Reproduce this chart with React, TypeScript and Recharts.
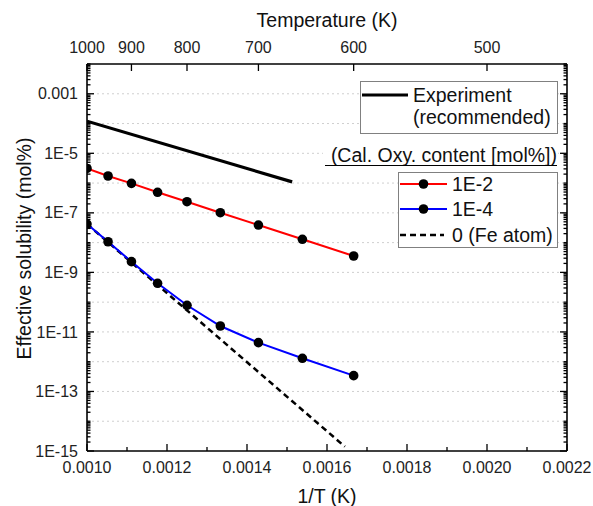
import React from 'react';
import { LineChart, Line, XAxis, YAxis, CartesianGrid, Legend } from 'recharts';

// ---- data ----
const temperaturesK = [1000, 950, 900, 850, 800, 750, 700, 650, 600];
const oxy1e2 = [3.1e-6, 1.73e-6, 9.8e-7, 4.9e-7, 2.37e-7, 1.01e-7, 3.9e-8, 1.29e-8, 3.55e-9];
const oxy1e4 = [4.2e-8, 1.07e-8, 2.29e-9, 4.3e-10, 7.85e-11, 1.58e-11, 4.36e-12, 1.3e-12, 3.4e-13];
const experimentT = [1000, 661];
const experimentVals = [1.2e-4, 1.1e-6];
const feAtomT = [1000, 608];
const feAtomVals = [4.2e-8, 1.4e-15];

// ---- ticks ----
const xMajorTicks = [0.001, 0.0012, 0.0014, 0.0016, 0.0018, 0.002, 0.0022];
const xTickLabels = ['0.0010', '0.0012', '0.0014', '0.0016', '0.0018', '0.0020', '0.0022'];
const xMinorTicks = [0.0011, 0.0013, 0.0015, 0.0017, 0.0019, 0.0021];
const topTickLabels = ['1000', '900', '800', '700', '600', '500'];
const yMajorTicks = [1e-15, 1e-13, 1e-11, 1e-9, 1e-7, 1e-5, 1e-3];
const yTickLabels = ['1E-15', '1E-13', '1E-11', '1E-9', '1E-7', '1E-5', '0.001'];
const gridDecades = [1e-14, 1e-13, 1e-12, 1e-11, 1e-10, 1e-9, 1e-8, 1e-7, 1e-6, 1e-5, 1e-4, 1e-3];

const yMinorTicks: number[] = [];
for (let e = -15; e <= -3; e++) {
  for (let m = 1; m <= 9; m++) {
    const v = parseFloat(`${m}e${e}`);
    if (!yMajorTicks.some((t) => Math.abs(v - t) / t < 1e-6)) yMinorTicks.push(v);
  }
}
yMinorTicks.push(1e-2);
const yAllTicks = [...yMajorTicks, ...yMinorTicks].sort((a, b) => a - b);
const xAllTicks = [...xMajorTicks, ...xMinorTicks].sort((a, b) => a - b);
const topTicks = topTickLabels.map((t) => 1 / Number(t));

const toPoints = (ts: number[], vals: number[]) => ts.map((T, i) => ({ x: 1 / T, y: vals[i] }));
const series1e2 = toPoints(temperaturesK, oxy1e2);
const series1e4 = toPoints(temperaturesK, oxy1e4);
const seriesExp = toPoints(experimentT, experimentVals);
const seriesFe = toPoints(feAtomT, feAtomVals);

const FONT = '"Liberation Sans", Arial, Helvetica, sans-serif';
const TICK_FS = 16;
const TITLE_FS = 19.5;
const LEG_FS = 19.5;
const axisStyle = { stroke: '#000', strokeWidth: 1.6 };

const idxOf = (arr: number[], v: number) => arr.findIndex((t) => Math.abs(v - t) / t < 1e-6);

const LeftTick = (p: any) => {
  const v = p.payload.value;
  const i = idxOf(yMajorTicks, v);
  const len = i >= 0 ? 7 : 3.5;
  return (
    <g>
      <line x1={p.x} x2={p.x + len} y1={p.y} y2={p.y} stroke="#000" strokeWidth={1.3} />
      {i >= 0 && (
        <text x={p.x - 9} y={p.y + 5.6} textAnchor="end" fontSize={TICK_FS} fontFamily={FONT} fill="#222">
          {yTickLabels[i]}
        </text>
      )}
    </g>
  );
};

const RightTick = (p: any) => {
  const v = p.payload.value;
  const i = idxOf(yMajorTicks, v);
  const len = i >= 0 ? 7 : 3.5;
  return <line x1={p.x} x2={p.x - len} y1={p.y} y2={p.y} stroke="#000" strokeWidth={1.3} />;
};

const BottomTick = (p: any) => {
  const v = p.payload.value;
  const i = idxOf(xMajorTicks, v);
  const len = i >= 0 ? 7 : 4;
  return (
    <g>
      <line x1={p.x} x2={p.x} y1={p.y} y2={p.y - len} stroke="#000" strokeWidth={1.3} />
      {i >= 0 && (
        <text x={p.x} y={p.y + 22} textAnchor="middle" fontSize={TICK_FS} fontFamily={FONT} fill="#222">
          {xTickLabels[i]}
        </text>
      )}
    </g>
  );
};

const TopTick = (p: any) => {
  const v = p.payload.value;
  const i = idxOf(topTicks, v);
  return (
    <g>
      <line x1={p.x} x2={p.x} y1={p.y} y2={p.y + 7} stroke="#000" strokeWidth={1.3} />
      <text x={p.x} y={p.y - 11} textAnchor="middle" fontSize={TICK_FS} fontFamily={FONT} fill="#222">
        {topTickLabels[i]}
      </text>
    </g>
  );
};

const LegendBoxes = () => (
  <svg width={593} height={506} style={{ display: 'block' }}>
    <g fontFamily={FONT} fontSize={LEG_FS} fill="#111">
      <rect x={360.5} y={81.5} width={197} height={52} fill="#fff" stroke="#808080" strokeWidth={1} />
      <line x1={362} x2={408} y1={95} y2={95} stroke="#000" strokeWidth={3.2} />
      <text x={413} y={101.5}>Experiment</text>
      <text x={413} y={124}>(recommended)</text>

      <rect x={323} y={145} width={235} height={22} fill="#fff" />
      <text x={557} y={162} textAnchor="end">(Cal. Oxy. content [mol%])</text>
      <line x1={325} x2={557} y1={165.5} y2={165.5} stroke="#000" strokeWidth={1} />

      <rect x={398.5} y={172.5} width={159} height={75} fill="#fff" stroke="#808080" strokeWidth={1} />
      <line x1={400} x2={447} y1={184} y2={184} stroke="#ff0000" strokeWidth={2} />
      <circle cx={423.5} cy={184} r={4.8} fill="#000" />
      <text x={452} y={191}>1E-2</text>
      <line x1={400} x2={447} y1={209} y2={209} stroke="#0000ff" strokeWidth={2} />
      <circle cx={423.5} cy={209} r={4.8} fill="#000" />
      <text x={452} y={216}>1E-4</text>
      <line x1={400} x2={444} y1={235} y2={235} stroke="#000" strokeWidth={2.5} strokeDasharray="6 4" />
      <text x={452} y={242}>0 (Fe atom)</text>
    </g>
  </svg>
);

export default function App() {
  return (
    <div style={{ position: 'absolute', left: 0, top: 0, width: 593, height: 506, background: '#fff' }}>
      <LineChart width={593} height={506} margin={{ top: 0, right: 0, bottom: 0, left: 0 }}>
        <CartesianGrid
          vertical={false}
          horizontalValues={gridDecades}
          stroke="#cfcfcf"
          strokeDasharray="2 3"
          strokeWidth={1}
        />
        <XAxis
          xAxisId={0}
          type="number"
          dataKey="x"
          domain={[0.001, 0.0022]}
          allowDataOverflow
          ticks={xAllTicks}
          interval={0}
          tickLine={false}
          tickSize={0}
          tickMargin={0}
          tick={BottomTick}
          height={55}
          axisLine={axisStyle}
          label={{
            content: (lp: any) => {
              const vb = lp.viewBox || { x: 87, y: 451, width: 480 };
              return (
                <text x={vb.x + vb.width / 2} y={vb.y + 52} textAnchor="middle" fontSize={TITLE_FS} fontFamily={FONT} fill="#111">
                  1/T (K)
                </text>
              );
            },
          }}
        />
        <XAxis
          xAxisId="top"
          orientation="top"
          type="number"
          dataKey="x"
          domain={[0.001, 0.0022]}
          allowDataOverflow
          ticks={topTicks}
          interval={0}
          tickLine={false}
          tickSize={0}
          tickMargin={0}
          tick={TopTick}
          height={64}
          axisLine={axisStyle}
          label={{
            content: (lp: any) => {
              const vb = lp.viewBox || { x: 87, y: 0, width: 480 };
              return (
                <text x={vb.x + vb.width / 2} y={vb.y + 26.5} textAnchor="middle" fontSize={TITLE_FS} fontFamily={FONT} fill="#111">
                  Temperature (K)
                </text>
              );
            },
          }}
        />
        <YAxis
          yAxisId={0}
          type="number"
          scale="log"
          domain={[1e-15, 1e-2]}
          allowDataOverflow
          ticks={yAllTicks}
          interval={0}
          tickLine={false}
          tickSize={0}
          tickMargin={0}
          tick={LeftTick}
          width={87}
          axisLine={axisStyle}
          label={{
            content: (lp: any) => {
              const vb = lp.viewBox || { x: 0, y: 64, height: 387 };
              const cx = vb.x + 31;
              const cy = vb.y + vb.height / 2 - 9;
              return (
                <text
                  x={cx}
                  y={cy}
                  transform={`rotate(-90 ${cx} ${cy})`}
                  textAnchor="middle"
                  fontSize={TITLE_FS}
                  fontFamily={FONT}
                  fill="#111"
                >
                  Effective solubility (mol%)
                </text>
              );
            },
          }}
        />
        <YAxis
          yAxisId="right"
          orientation="right"
          type="number"
          scale="log"
          domain={[1e-15, 1e-2]}
          allowDataOverflow
          ticks={yAllTicks}
          interval={0}
          tickLine={false}
          tickSize={0}
          tickMargin={0}
          tick={RightTick}
          width={26}
          axisLine={axisStyle}
        />
        <Line
          data={seriesFe}
          dataKey="y"
          stroke="#000"
          strokeWidth={2.5}
          strokeDasharray="6 4"
          dot={false}
          isAnimationActive={false}
        />
        <Line
          data={seriesExp}
          dataKey="y"
          stroke="#000"
          strokeWidth={3.2}
          dot={false}
          isAnimationActive={false}
        />
        <Line
          data={series1e2}
          dataKey="y"
          stroke="#ff0000"
          strokeWidth={2}
          dot={{ r: 4.8, fill: '#000', stroke: '#000', strokeWidth: 0 }}
          isAnimationActive={false}
        />
        <Line
          data={series1e4}
          dataKey="y"
          stroke="#0000ff"
          strokeWidth={2}
          dot={{ r: 4.8, fill: '#000', stroke: '#000', strokeWidth: 0 }}
          isAnimationActive={false}
        />
        <Legend
          verticalAlign="middle"
          align="center"
          content={LegendBoxes}
          wrapperStyle={{ position: 'absolute', left: 0, top: 0, width: 593, height: 506, pointerEvents: 'none' }}
        />
      </LineChart>
    </div>
  );
}
